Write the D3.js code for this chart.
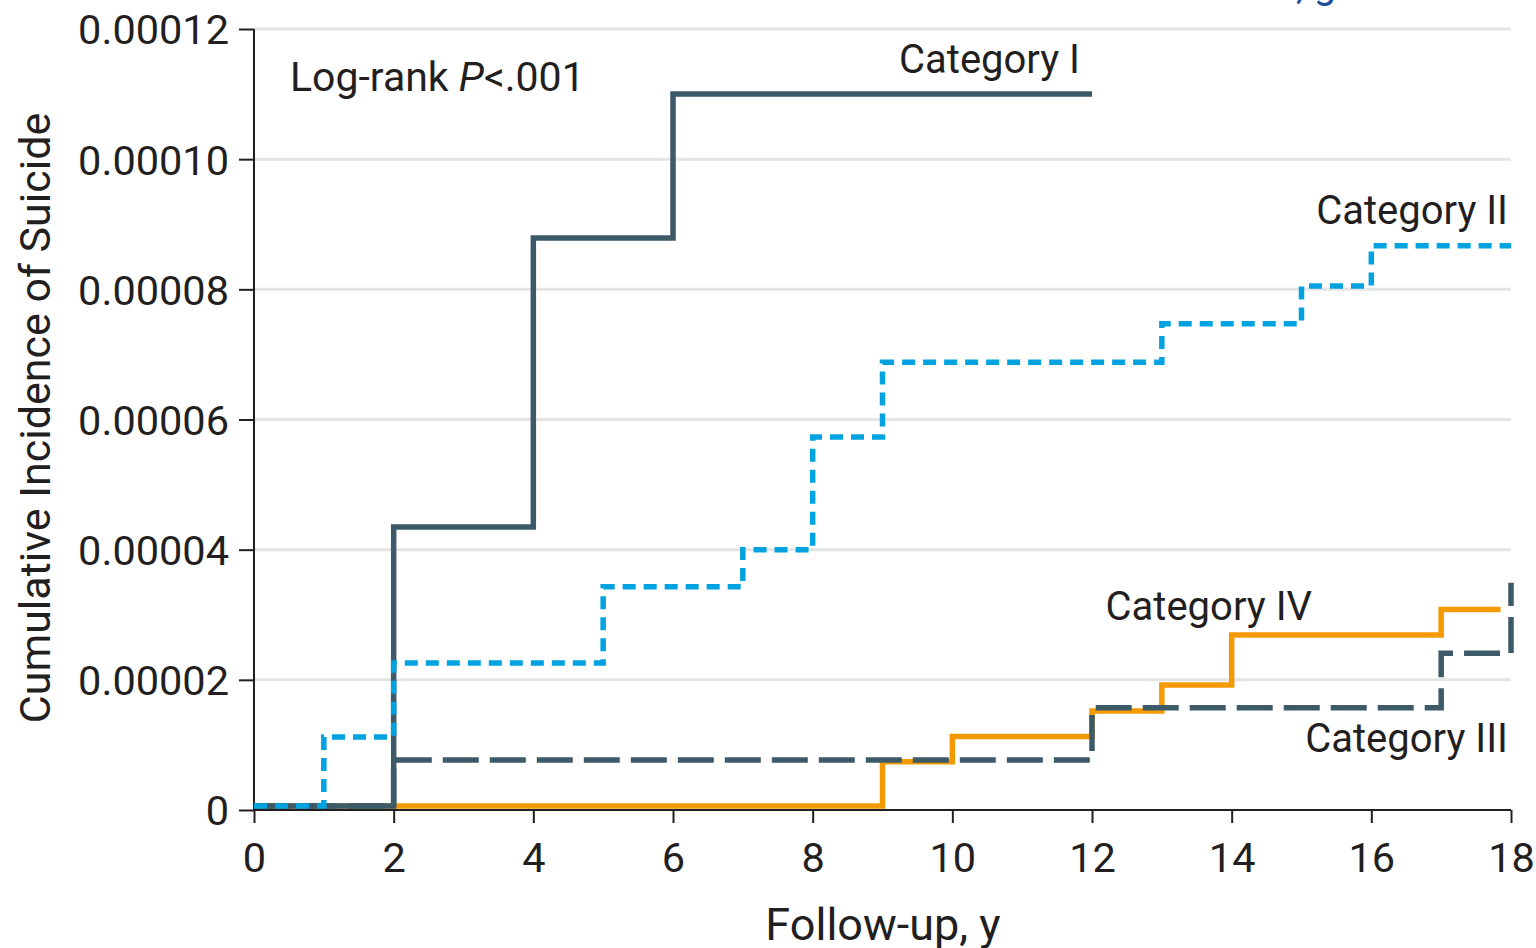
<!DOCTYPE html>
<html>
<head>
<meta charset="utf-8">
<script src="https://cdn.jsdelivr.net/npm/d3@7"></script>
<style>
  body { margin: 0; background: #fff; }
  svg text { font-family: Roboto, "Noto Sans", sans-serif; fill: #231f20; }
</style>
</head>
<body>
<div id="chart"></div>
<script>
// follow-up years where each curve steps, and the level after the step
var catITimes = [0, 2, 4, 6];
var catIValues = [0.0000006, 0.0000435, 0.0000879, 0.000110];
var catIEnd = 12;

var catIITimes = [0, 1, 2, 5, 7, 8, 9, 13, 15, 16];
var catIIValues = [0.0000006, 0.0000112, 0.0000226, 0.0000343, 0.0000400, 0.0000573, 0.0000688, 0.0000747, 0.0000805, 0.0000867];
var catIIEnd = 18;

var catIIITimes = [0, 2, 12, 17, 18];
var catIIIValues = [0.0000006, 0.0000077, 0.0000157, 0.0000241, 0.0000349];
var catIIIEnd = 18;

var catIVTimes = [0, 9, 10, 12, 13, 14, 17];
var catIVValues = [0.0000006, 0.0000074, 0.0000113, 0.0000152, 0.0000192, 0.0000269, 0.0000308];
var catIVEnd = 17.85;

var xTicks = [0, 2, 4, 6, 8, 10, 12, 14, 16, 18];
var yTicks = [0, 0.00002, 0.00004, 0.00006, 0.00008, 0.00010, 0.00012];
var yTickLabels = ["0", "0.00002", "0.00004", "0.00006", "0.00008", "0.00010", "0.00012"];

var w = 1536, h = 948;
var plotLeft = 254, plotRight = 1511, plotTop = 29, plotBottom = 810;

var svg = d3.select("#chart").append("svg")
  .attr("width", w)
  .attr("height", h);

var x = d3.scaleLinear().domain([0, 18]).range([plotLeft, plotRight]);
var y = d3.scaleLinear().domain([0, 0.00012]).range([plotBottom, plotTop]);

// clipped heading fragment at the very top
svg.append("text")
  .attr("x", 1296)
  .attr("y", -2)
  .style("font-size", "40px")
  .style("fill", "#1d4f9c")
  .text(", g");

// grid
svg.append("g").selectAll("line")
  .data(yTicks.slice(1))
  .enter().append("line")
  .attr("x1", plotLeft)
  .attr("x2", plotRight)
  .attr("y1", function(d) { return y(d); })
  .attr("y2", function(d) { return y(d); })
  .style("stroke", "#e3e4e4")
  .style("stroke-width", 3);

// axes
var yAxis = d3.axisLeft(y)
  .tickValues(yTicks)
  .tickFormat(function(d, i) { return yTickLabels[i]; })
  .tickSize(15)
  .tickPadding(10);

var xAxis = d3.axisBottom(x)
  .tickValues(xTicks)
  .tickSize(13)
  .tickPadding(10);

var gy = svg.append("g")
  .attr("transform", "translate(" + plotLeft + ",0)")
  .call(yAxis);

var gx = svg.append("g")
  .attr("transform", "translate(0," + plotBottom + ")")
  .call(xAxis);

[gx, gy].forEach(function(g) {
  g.select(".domain").remove();
  g.selectAll(".tick line").style("stroke", "#231f20").style("stroke-width", 2);
  g.selectAll(".tick text")
    .style("font-size", "41.5px")
    .style("fill", "#231f20")
    .attr("font-family", null);
});
gx.selectAll(".tick text").attr("dy", "0.93em");
gy.selectAll(".tick text").attr("dy", "0.36em");

svg.append("line")
  .attr("x1", plotLeft).attr("x2", plotLeft)
  .attr("y1", plotTop).attr("y2", plotBottom)
  .style("stroke", "#231f20").style("stroke-width", 2);
svg.append("line")
  .attr("x1", plotLeft).attr("x2", plotRight)
  .attr("y1", plotBottom).attr("y2", plotBottom)
  .style("stroke", "#231f20").style("stroke-width", 2);

// step curves
var line = d3.line()
  .x(function(d) { return x(d[0]); })
  .y(function(d) { return y(d[1]); })
  .curve(d3.curveStepAfter);

function points(times, values, end) {
  var pts = times.map(function(t, i) { return [t, values[i]]; });
  var last = pts[pts.length - 1];
  if (last[0] < end) pts.push([end, last[1]]);
  return pts;
}

var series = [
  { pts: points(catIVTimes, catIVValues, catIVEnd), color: "#f39a00", dash: null },
  { pts: points(catIIITimes, catIIIValues, catIIIEnd), color: "#3d5a68", dash: "36,11" },
  { pts: points(catITimes, catIValues, catIEnd), color: "#3d5a68", dash: null },
  { pts: points(catIITimes, catIIValues, catIIEnd), color: "#00a3e0", dash: "13,8" }
];

svg.append("g").selectAll("path")
  .data(series)
  .enter().append("path")
  .attr("d", function(d) { return line(d.pts); })
  .style("fill", "none")
  .style("stroke", function(d) { return d.color; })
  .style("stroke-width", 5.5)
  .style("stroke-dasharray", function(d) { return d.dash; })
  .style("stroke-linejoin", "miter")
  .style("stroke-linecap", "butt");

// labels
function label(tx, ty, anchor, txt) {
  svg.append("text")
    .attr("x", tx).attr("y", ty)
    .attr("text-anchor", anchor)
    .style("font-size", "40px")
    .text(txt);
}
label(1080, 73, "end", "Category I");
label(1508, 224, "end", "Category II");
label(1312, 620, "end", "Category IV");
label(1508, 752, "end", "Category III");

var lr = svg.append("text")
  .attr("x", 290).attr("y", 91)
  .style("font-size", "41px");
lr.append("tspan").text("Log-rank ");
lr.append("tspan").style("font-style", "italic").text("P");
lr.append("tspan").text("<.001");

// axis titles
svg.append("text")
  .attr("transform", "translate(50,418) rotate(-90)")
  .attr("text-anchor", "middle")
  .style("font-size", "43px")
  .text("Cumulative Incidence of Suicide");

svg.append("text")
  .attr("x", 883).attr("y", 940)
  .attr("text-anchor", "middle")
  .style("font-size", "45px")
  .text("Follow-up, y");
</script>
</body>
</html>
